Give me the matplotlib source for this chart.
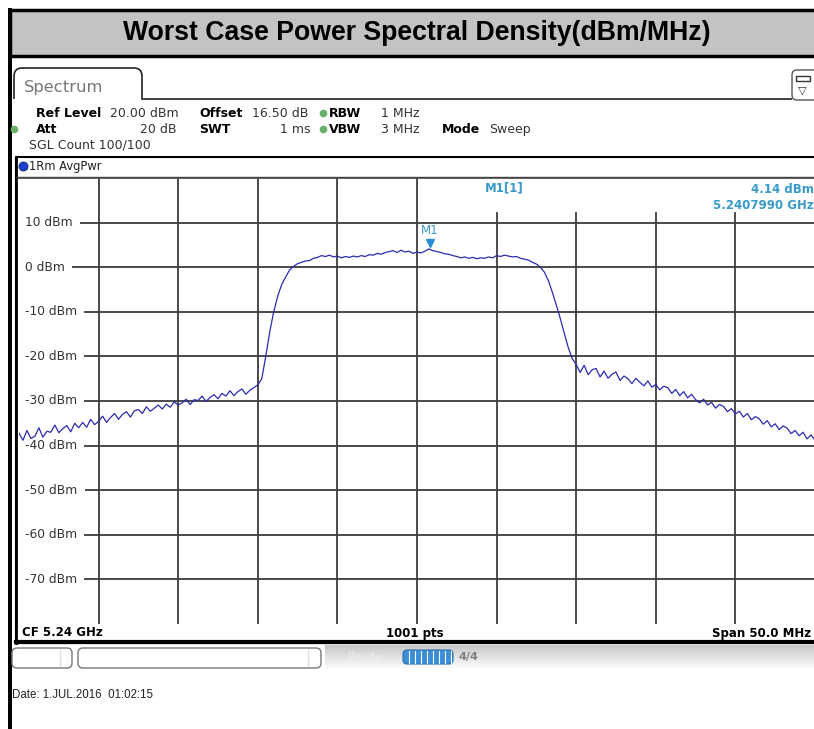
import numpy as np
import matplotlib.pyplot as plt
from matplotlib.patches import Rectangle, FancyBboxPatch
from matplotlib.path import Path
from matplotlib.patches import PathPatch

# ---- data ----
cf_ghz = 5.24
span_mhz = 50.0
step_mhz = 0.25          # trace resampled every 0.25 MHz, start at CF - span/2

level_dbm = [
    # lower skirt
    -37.2, -38.8, -36.6, -38.4, -37.9, -36.0, -38.1, -36.8, -37.0, -35.4,
    -37.1, -36.2, -35.5, -36.9, -35.0, -36.0, -34.8, -35.9, -34.1, -35.3,
    -34.6, -33.4, -34.8, -33.7, -32.8, -34.1, -33.0, -32.4, -33.6, -32.2,
    -31.9, -32.8, -31.3, -32.3, -31.6, -30.9, -31.8, -30.7, -31.4, -30.2,
    -30.9, -30.4, -29.6, -30.8, -29.7, -29.9, -28.9, -30.1, -29.2, -28.6,
    -29.5, -28.3, -28.9, -27.7, -28.8, -27.9, -27.3, -28.5, -27.6, -27.0,
    -26.4,
    # rising edge + channel
    -25.0, -20.0, -14.5, -10.0, -6.5, -3.9, -2.2, -0.6, 0.2,
    0.8, 1.1, 1.4, 1.5, 2.0, 2.2, 2.6, 2.4, 2.7, 2.3,
    2.5, 2.1, 2.4, 2.2, 2.5, 2.3, 2.6, 2.4, 2.8, 2.7,
    3.1, 2.9, 3.3, 3.5, 3.7, 3.3, 3.8, 3.4, 3.6, 3.1,
    3.4, 3.2, 3.6, 4.1, 3.7, 3.5, 3.3, 3.0, 2.9, 2.6,
    2.4, 2.1, 2.3, 2.0, 2.2, 1.9, 2.1, 2.0, 2.3, 2.1,
    2.6, 2.4, 2.7, 2.5, 2.3, 2.4, 2.0, 1.8, 1.6, 1.1,
    0.7, 0.0, -1.1, -3.0, -5.6, -8.5, -11.5, -14.8, -18.0, -20.5,
    # upper skirt
    -21.8, -23.6, -22.0, -24.1, -23.0, -22.7, -24.6, -23.3, -24.9, -24.0,
    -23.5, -25.4, -24.4, -25.0, -26.1, -24.9, -25.8, -26.6, -25.5, -26.9,
    -26.3, -27.5, -26.7, -27.0, -28.3, -27.4, -28.8, -27.9, -29.3, -28.5,
    -29.7, -30.4, -29.6, -30.9, -30.3, -31.6, -30.8, -31.2, -32.4, -31.7,
    -32.9, -32.3, -33.6, -32.8, -34.2, -33.5, -34.0, -35.2, -34.4, -35.8,
    -35.1, -36.4, -35.6, -36.1, -37.3, -36.6, -37.8, -37.0, -38.5, -37.6,
    -38.8,
]

ref_levels = [10, 0, -10, -20, -30, -40, -50, -60, -70]
m1_freq_ghz = 5.2407990
m1_level_dbm = 4.14

freq_ghz = cf_ghz + (np.arange(len(level_dbm)) * step_mhz - span_mhz / 2) / 1000.0
f_lo = cf_ghz - span_mhz / 2000.0
f_hi = cf_ghz + span_mhz / 2000.0

W, H = 814, 729
fig = plt.figure(figsize=(W / 100, H / 100), dpi=100)
fig.patch.set_facecolor('white')

# overlay in pixel coordinates for the instrument frame
ov = fig.add_axes([0, 0, 1, 1])
ov.set_xlim(0, W)
ov.set_ylim(H, 0)
ov.axis('off')

ui_font = 'DejaVu Sans'
marker_col = '#3a9ac9'
green = '#6ab06a'

# title bar + outer frame
ov.add_patch(Rectangle((10, 10), 806, 46, facecolor='#c3c3c3', edgecolor='black', lw=2.5))
ov.add_patch(Rectangle((8, 8), 4, H, facecolor='black', edgecolor='none'))
ov.text(417, 33, 'Worst Case Power Spectral Density(dBm/MHz)', ha='center', va='center',
        fontsize=19.2, fontweight='bold', family='Liberation Sans')

# spectrum tab
verts = [(14, 99), (14, 76), (14, 68), (22, 68), (134, 68), (142, 68), (142, 76), (142, 99), (792, 99)]
codes = [Path.MOVETO, Path.LINETO, Path.CURVE3, Path.CURVE3, Path.LINETO,
         Path.CURVE3, Path.CURVE3, Path.LINETO, Path.LINETO]
ov.add_patch(PathPatch(Path(verts, codes), facecolor='none', edgecolor='#222222', lw=1.2))
ov.text(24, 87, 'Spectrum', fontsize=11.8, color='#777777', va='center', family=ui_font)
ov.add_patch(FancyBboxPatch((792, 70), 30, 30, boxstyle='round,pad=0,rounding_size=5',
                            facecolor='white', edgecolor='#555555', lw=1))
ov.add_patch(Rectangle((796, 76), 14, 5, facecolor='none', edgecolor='#333333', lw=1))
ov.text(802, 90, '\u25bd', fontsize=8, ha='center', va='center', color='#333333')

# header settings
hs = 9
def hdr(x, y, s, bold=False, ha='left'):
    ov.text(x, y, s, fontsize=hs, va='center', ha=ha, family=ui_font,
            fontweight='bold' if bold else 'normal', color='black' if bold else '#333333')

hdr(36, 113, 'Ref Level', True)
hdr(110, 113, '20.00 dBm')
hdr(199, 113, 'Offset', True)
hdr(252, 113, '16.50 dB')
hdr(329, 113, 'RBW', True)
hdr(381, 113, '1 MHz')
hdr(36, 129, 'Att', True)
hdr(177, 129, '20 dB', ha='right')
hdr(199, 129, 'SWT', True)
hdr(310, 129, '1 ms', ha='right')
hdr(329, 129, 'VBW', True)
hdr(381, 129, '3 MHz')
hdr(442, 129, 'Mode', True)
hdr(489, 129, 'Sweep')
hdr(29, 145, 'SGL Count 100/100')
for (x, y) in [(323, 113), (323, 129), (14, 129)]:
    ov.plot(x, y, 'o', ms=5.5, color=green, mec='none')

# trace window frame
ov.add_patch(Rectangle((16, 157), 802, 486, facecolor='none', edgecolor='black', lw=1.5))
ov.plot([16, 818], [642, 642], color='black', lw=3)
ov.plot([16, 16], [157, 643], color='black', lw=2)
ov.plot([16, 818], [176.5, 176.5], color='#444444', lw=1)
ov.plot(23, 166, 'o', ms=6.5, color='#1f3fd0', mec='#10206a', mew=0.6)
ov.text(29, 166, '1Rm AvgPwr', fontsize=8.3, va='center', family=ui_font, color='#222222')
ov.text(22, 633, 'CF 5.24 GHz', fontsize=8.5, fontweight='bold', va='center', family=ui_font)
ov.text(415, 633, '1001 pts', fontsize=8.5, fontweight='bold', va='center', ha='center', family=ui_font)
ov.text(811, 633, 'Span 50.0 MHz', fontsize=8.5, fontweight='bold', va='center', ha='right', family=ui_font)

# status bar
grad = np.linspace(0.78, 1.0, 50).reshape(-1, 1)
ov.imshow(grad, cmap='gray', vmin=0, vmax=1, extent=(325, W, 670, 645), aspect='auto', zorder=0)
ov.add_patch(FancyBboxPatch((12, 648), 60, 20, boxstyle='round,pad=0,rounding_size=5',
                            facecolor='white', edgecolor='#777777', lw=1))
ov.add_patch(FancyBboxPatch((78, 648), 243, 20, boxstyle='round,pad=0,rounding_size=5',
                            facecolor='white', edgecolor='#777777', lw=1))
ov.plot([60, 60], [650, 666], color='#dddddd', lw=1)
ov.plot([308, 308], [650, 666], color='#dddddd', lw=1)
ov.text(365, 657, 'Ready', fontsize=8, color='#eeeeee', va='center', ha='center', family=ui_font)
ov.add_patch(FancyBboxPatch((403, 650), 50, 14, boxstyle='round,pad=0,rounding_size=4',
                            facecolor='#3a8fd8', edgecolor='#2a70b0', lw=0.8))
for x in range(409, 452, 6):
    ov.plot([x, x], [651, 663], color='white', lw=0.8)
ov.text(468, 657, '4/4', fontsize=8, fontweight='bold', color='#555555', va='center', ha='center',
        alpha=0.7)

ov.text(12, 695, 'Date: 1.JUL.2016  01:02:15', fontsize=8.3, va='center', family='Liberation Sans',
        color='#222222')

# ---- spectrum plot ----
left, top, right, bottom = 19, 178, 815, 624
ax = fig.add_axes([left / W, 1 - bottom / H, (right - left) / W, (bottom - top) / H])
ax.set_xlim(f_lo, f_hi)
ax.set_ylim(-80, 20)
ax.set_xticks([])
ax.set_yticks([])
for s in ['left', 'right', 'bottom']:
    ax.spines[s].set_visible(False)
ax.spines['top'].set_color('#444444')
ax.spines['top'].set_linewidth(1.2)

grid_col = '#3c3c3c'
div_ghz = span_mhz / 10 / 1000.0
info_top = 20 - (213 - 178) / 4.46
for k in range(1, 10):
    fx = f_lo + k * div_ghz
    y0 = info_top if fx > cf_ghz + 1e-6 else 20
    ax.plot([fx, fx], [-80, y0], color=grid_col, lw=1.3, zorder=1)
for lv in ref_levels:
    ax.axhline(lv, color=grid_col, lw=1.3, zorder=1)
    ax.text(f_lo + 0.0004, lv, f'{lv} dBm', fontsize=8.8, va='center', ha='left', family=ui_font,
            color='#333333', zorder=2,
            bbox=dict(facecolor='white', edgecolor='none', pad=5))

ax.plot(freq_ghz, level_dbm, color='#2b2bb0', lw=0.9, zorder=3)

# marker M1
ax.plot(m1_freq_ghz, m1_level_dbm + 1.2, marker='v', ms=6, color='#2a8fd0', zorder=4)
ax.text(m1_freq_ghz, m1_level_dbm + 2.6, 'M1', fontsize=8.5, color=marker_col, ha='center',
        va='bottom', family=ui_font, zorder=4)
ax.text(5.2455, 17.8, 'M1[1]', fontsize=8.5, fontweight='bold', color=marker_col, ha='center',
        va='center', family=ui_font)
ax.text(0.9985, 0.975, f'{m1_level_dbm:.2f} dBm', transform=ax.transAxes, fontsize=8.5,
        fontweight='bold', color=marker_col, ha='right', va='center', family=ui_font)
ax.text(0.9985, 0.938, f'{m1_freq_ghz:.7f} GHz', transform=ax.transAxes, fontsize=8.5,
        fontweight='bold', color=marker_col, ha='right', va='center', family=ui_font)

fig.savefig('out.png', dpi=100)
